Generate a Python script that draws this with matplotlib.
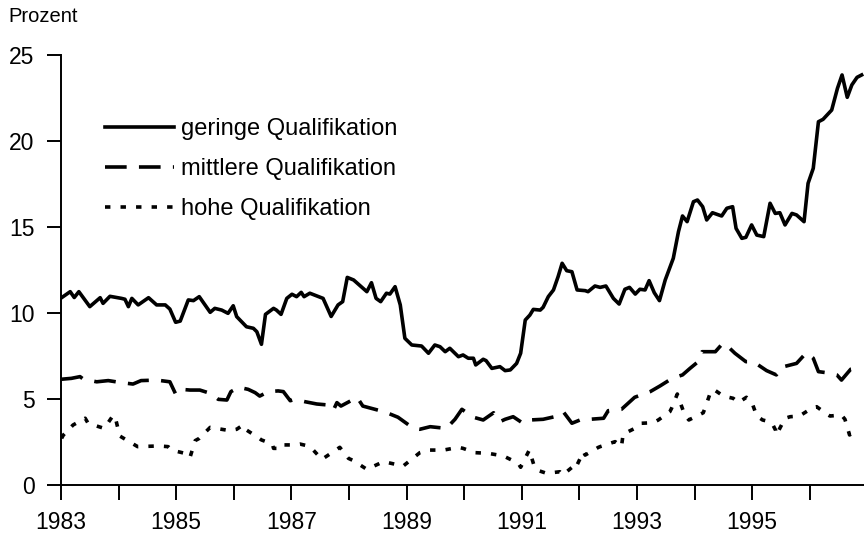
import matplotlib
matplotlib.use("Agg")
import matplotlib.pyplot as plt
import numpy as np

plt.rcParams['font.family'] = ['Liberation Sans', 'DejaVu Sans']

# geringe Qualifikation (solid)
t_low = [1983.01, 1983.16, 1983.23, 1983.31, 1983.50, 1983.68, 1983.73, 1983.85, 1984.05, 1984.11,
         1984.17, 1984.23, 1984.34, 1984.52, 1984.66, 1984.81, 1984.89, 1984.99, 1985.07, 1985.21,
         1985.30, 1985.40, 1985.59, 1985.67, 1985.79, 1985.90, 1985.99, 1986.05, 1986.22, 1986.34,
         1986.40, 1986.48, 1986.55, 1986.69, 1986.74, 1986.82, 1986.92, 1987.01, 1987.09, 1987.17,
         1987.22, 1987.32, 1987.47, 1987.55, 1987.69, 1987.81, 1987.89, 1987.97, 1988.08, 1988.31,
         1988.39, 1988.47, 1988.55, 1988.65, 1988.71, 1988.80, 1988.89, 1988.97, 1989.09, 1989.26,
         1989.38, 1989.49, 1989.58, 1989.67, 1989.75, 1989.90, 1989.98, 1990.07, 1990.16, 1990.20,
         1990.33, 1990.38, 1990.48, 1990.62, 1990.71, 1990.80, 1990.91, 1990.98, 1991.06, 1991.14,
         1991.20, 1991.32, 1991.37, 1991.46, 1991.55, 1991.63, 1991.70, 1991.78, 1991.87, 1991.96,
         1992.10, 1992.15, 1992.27, 1992.36, 1992.46, 1992.59, 1992.69, 1992.79, 1992.87, 1992.97,
         1993.05, 1993.14, 1993.21, 1993.30, 1993.39, 1993.49, 1993.63, 1993.72, 1993.79, 1993.87,
         1993.98, 1994.05, 1994.14, 1994.21, 1994.31, 1994.47, 1994.56, 1994.66, 1994.72, 1994.82,
         1994.89, 1994.99, 1995.08, 1995.20, 1995.31, 1995.40, 1995.48, 1995.57, 1995.69, 1995.77,
         1995.90, 1995.97, 1996.06, 1996.15, 1996.23, 1996.38, 1996.48, 1996.56, 1996.65, 1996.73,
         1996.82, 1996.90]
v_low = [10.89, 11.24, 10.9, 11.24, 10.37, 10.89, 10.56, 10.97, 10.85, 10.8,
         10.37, 10.85, 10.47, 10.89, 10.47, 10.47, 10.23, 9.46, 9.53, 10.76,
         10.72, 10.95, 10.04, 10.27, 10.17, 9.98, 10.42, 9.79, 9.2, 9.11,
         8.91, 8.18, 9.92, 10.27, 10.17, 9.92, 10.85, 11.09, 10.95, 11.2,
         10.95, 11.15, 10.95, 10.85, 9.8, 10.47, 10.66, 12.07, 11.92, 11.24,
         11.76, 10.85, 10.66, 11.15, 11.1, 11.53, 10.47, 8.53, 8.14, 8.08,
         7.66, 8.14, 8.04, 7.75, 7.95, 7.46, 7.56, 7.37, 7.37, 6.98,
         7.31, 7.23, 6.78, 6.88, 6.65, 6.69, 7.07, 7.66, 9.59, 9.88,
         10.21, 10.17, 10.33, 10.95, 11.34, 12.11, 12.89, 12.46, 12.4, 11.34,
         11.3, 11.24, 11.57, 11.49, 11.57, 10.85, 10.52, 11.38, 11.49, 11.1,
         11.38, 11.34, 11.88, 11.18, 10.72, 11.92, 13.18, 14.73, 15.64, 15.31,
         16.47, 16.57, 16.18, 15.41, 15.83, 15.64, 16.09, 16.18, 14.92, 14.34,
         14.4, 15.12, 14.53, 14.44, 16.38, 15.79, 15.83, 15.12, 15.79, 15.7,
         15.31, 17.54, 18.41, 21.12, 21.26, 21.8, 23.06, 23.84, 22.54, 23.26,
         23.7, 23.84]

# mittlere Qualifikation (dashed)
t_mid = [1983.01, 1983.18, 1983.33, 1983.39, 1983.62, 1983.82, 1984.05, 1984.25, 1984.39, 1984.66,
         1984.89, 1984.99, 1985.09, 1985.24, 1985.41, 1985.59, 1985.73, 1985.88, 1985.95, 1986.09,
         1986.25, 1986.37, 1986.45, 1986.60, 1986.77, 1986.86, 1986.98, 1987.06, 1987.24, 1987.44,
         1987.64, 1987.73, 1987.79, 1987.86, 1988.00, 1988.14, 1988.24, 1988.54, 1988.68,
         1988.85, 1989.12, 1989.23, 1989.41, 1989.69, 1989.84, 1989.96, 1990.16, 1990.33, 1990.51,
         1990.62, 1990.71, 1990.85, 1991.02, 1991.14, 1991.37, 1991.57, 1991.72, 1991.87, 1992.04,
         1992.18, 1992.42, 1992.50, 1992.73, 1992.96, 1993.23, 1993.40, 1993.61, 1993.79, 1993.92,
         1994.04, 1994.13, 1994.36, 1994.49, 1994.55, 1994.70, 1994.89, 1995.02, 1995.25, 1995.42,
         1995.50, 1995.77, 1995.94, 1996.06, 1996.15, 1996.29, 1996.47, 1996.55, 1996.71, 1996.90]
v_mid = [6.15, 6.2, 6.3, 6.15, 6.0, 6.07, 5.95, 5.87, 6.07, 6.1,
         6.0, 5.29, 5.56, 5.52, 5.52, 5.33, 4.98, 4.94, 5.43, 5.68,
         5.56, 5.37, 5.17, 5.43, 5.47, 5.43, 4.9, 4.98, 4.84, 4.71,
         4.65, 4.36, 4.79, 4.59, 4.84, 5.1, 4.59, 4.32, 4.17,
         3.94, 3.29, 3.24, 3.39, 3.29, 3.82, 4.4, 3.94, 3.78, 4.2,
         3.68, 3.82, 3.97, 3.59, 3.78, 3.82, 3.97, 4.26, 3.59, 3.82,
         3.82, 3.88, 4.32, 4.4, 5.1, 5.43, 5.76, 6.2, 6.4, 6.78,
         7.11, 7.75, 7.75, 8.24, 8.14, 7.66, 7.17, 7.17, 6.65, 6.4,
         6.84, 7.07, 7.69, 7.37, 6.59, 6.53, 6.4, 6.1, 6.73, 6.8]

# hohe Qualifikation (dotted)
t_high = [1983.01, 1983.04, 1983.21, 1983.42, 1983.47, 1983.75, 1983.91, 1983.95, 1984.02, 1984.33,
          1984.70, 1984.86, 1984.92, 1985.20, 1985.24, 1985.33, 1985.40, 1985.59, 1985.93, 1986.05,
          1986.16, 1986.20, 1986.40, 1986.48, 1986.67, 1986.69, 1986.83, 1986.86, 1987.06, 1987.15,
          1987.29, 1987.38, 1987.53, 1987.84, 1987.99, 1988.08, 1988.31, 1988.60, 1988.94, 1989.23,
          1989.38, 1989.64, 1989.90, 1989.98, 1990.19, 1990.42, 1990.68, 1990.94, 1990.98, 1991.13,
          1991.21, 1991.26, 1991.43, 1991.66, 1991.71, 1991.92, 1991.94, 1992.07, 1992.10, 1992.33,
          1992.36, 1992.62, 1992.73, 1992.76, 1992.81, 1993.02, 1993.08, 1993.28, 1993.37, 1993.57,
          1993.60, 1993.70, 1993.73, 1993.83, 1993.90, 1994.15, 1994.18, 1994.28, 1994.33, 1994.50,
          1994.59, 1994.67, 1994.76, 1994.90, 1994.99, 1995.08, 1995.18, 1995.30, 1995.36, 1995.41,
          1995.42, 1995.57, 1995.66, 1995.82, 1996.06, 1996.12, 1996.29, 1996.35, 1996.55, 1996.61,
          1996.69, 1996.76]
v_high = [2.71, 2.9, 3.49, 3.88, 3.59, 3.29, 4.07, 3.82, 2.85, 2.23,
          2.27, 2.23, 2.03, 1.8, 1.61, 2.58, 2.71, 3.35, 3.16, 3.24,
          3.49, 3.24, 2.81, 2.62, 2.38, 2.13, 2.13, 2.33, 2.33, 2.38,
          2.27, 2.03, 1.49, 2.19, 1.55, 1.41, 0.91, 1.36, 1.1, 1.88,
          2.03, 2.03, 2.19, 2.13, 1.88, 1.84, 1.69, 1.26, 1.03, 2.03,
          1.16, 0.87, 0.68, 0.77, 0.58, 1.16, 1.03, 1.94, 1.74, 2.19,
          2.23, 2.52, 2.23, 2.97, 3.04, 3.39, 3.59, 3.62, 3.78, 4.26,
          4.46, 5.29, 4.98, 4.07, 3.78, 4.2, 4.46, 5.43, 5.56, 5.17,
          5.1, 5.04, 4.79, 5.1, 4.84, 4.01, 3.78, 3.68, 3.49, 3.16,
          2.91, 3.88, 3.97, 4.01, 4.52, 4.55, 4.13, 4.01, 4.07, 3.82,
          2.91, 3.04]

labels = ["geringe Qualifikation", "mittlere Qualifikation", "hohe Qualifikation"]

fig = plt.figure(figsize=(8.64, 5.37), dpi=100)
ax = fig.add_axes([61 / 864, 52 / 537, 803 / 864, 430 / 537])

lw = 2.6
ax.plot(t_low, v_low, color='black', lw=lw, label=labels[0])
ax.plot(t_mid, v_mid, color='black', lw=lw, dashes=(6.0, 3.4), label=labels[1])
ax.plot(t_high, v_high, color='black', lw=lw, dashes=(1.5, 2.8), label=labels[2])

ax.set_xlim(1983, 1983 + 803 / 57.6)
ax.set_ylim(0, 25)
ax.set_xticks(np.arange(1983, 1997))
ax.set_xticklabels([str(y) if y % 2 == 1 else "" for y in range(1983, 1997)])
ax.set_yticks([0, 5, 10, 15, 20, 25])

for s in ['top', 'right']:
    ax.spines[s].set_visible(False)
for s in ['left', 'bottom']:
    ax.spines[s].set_linewidth(1.4)
ax.tick_params(axis='x', length=11, width=1.4, pad=8, labelsize=16.5)
ax.tick_params(axis='y', length=10, width=1.4, pad=9, labelsize=16.5)

ax.legend(loc='upper left', bbox_to_anchor=(0.055, 0.853), frameon=False,
          fontsize=17, handlelength=2.9, handletextpad=0.3,
          labelspacing=0.76, borderpad=0, borderaxespad=0)

fig.text(8 / 864, 1 - 17 / 537, "Prozent", fontsize=14.5, va='center', ha='left')

fig.savefig("out.png", dpi=100)
